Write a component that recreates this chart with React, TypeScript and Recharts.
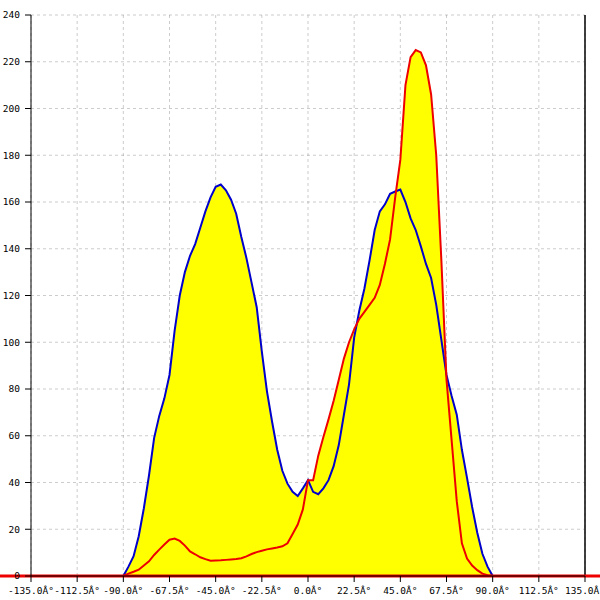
import { ComposedChart, Area, Line, XAxis, YAxis, CartesianGrid, ReferenceLine } from 'recharts'

const angles = [
  -90, -87.5, -85, -82.5, -80, -77.5, -75, -72.5, -70, -67.5, -65, -62.5, -60, -57.5, -55, -52.5, -50, -47.5,
  -45, -42.5, -40, -37.5, -35, -32.5, -30, -27.5, -25, -22.5, -20, -17.5, -15, -12.5, -10, -7.5, -5, -2.5,
  0, 2.5, 5, 7.5, 10, 12.5, 15, 17.5, 20, 22.5, 25, 27.5, 30, 32.5, 35, 37.5, 40, 42.5,
  45, 47.5, 50, 52.5, 55, 57.5, 60, 62.5, 65, 67.5, 70, 72.5, 75, 77.5, 80, 82.5, 85, 87.5, 90,
]

const blueValues = [
  0, 4, 8.5, 17, 29, 43, 59, 68.5, 76, 86, 105, 120, 130, 137, 142, 149, 156, 162,
  166.5, 167.5, 165, 161, 155, 145, 136, 125.5, 115, 96, 79, 66, 54, 45, 39.5, 36, 34.2, 37.5,
  41, 36, 35, 37.5, 41, 47, 56, 69, 82, 102, 113.5, 123, 135, 148, 156, 159, 163.5, 164.5,
  165.3, 160, 153, 148, 141, 133.5, 127.5, 116, 101, 86, 77, 69, 54, 42, 29.5, 18.5, 9.5, 4, 0,
]

const redValues = [
  0, 1, 1.8, 2.7, 4.5, 6.3, 9, 11.3, 13.5, 15.5, 16, 15, 13, 10.5, 9.3, 8, 7.2, 6.5,
  6.6, 6.7, 6.9, 7.1, 7.3, 7.6, 8.4, 9.4, 10.2, 10.8, 11.4, 11.8, 12.2, 12.7, 14, 18, 22, 28.5,
  41, 41, 51.5, 59.5, 67, 75, 84, 93, 100, 105.5, 110, 113, 116, 119, 124.5, 133.6, 144, 162,
  178, 210, 222, 225, 224, 218.5, 206, 180, 135, 84, 58, 32, 14, 7.5, 4.5, 2.5, 1, 0.3, 0,
]

const xTicks = [-135, -112.5, -90, -67.5, -45, -22.5, 0, 22.5, 45, 67.5, 90, 112.5, 135]
const yTicks = [0, 20, 40, 60, 80, 100, 120, 140, 160, 180, 200, 220, 240]

const data = angles.map((a, i) => ({ angle: a, blue: blueValues[i], red: redValues[i] }))

const tickStyle = { fontSize: 9.5, fontFamily: '"DejaVu Sans Mono", monospace', fill: '#000' }

export default function App() {
  return (
    <div style={{ position: 'absolute', left: 0, top: 0, width: 600, height: 600, background: '#fff' }}>
      <ComposedChart width={600} height={600} data={data} margin={{ top: 15, right: 15, bottom: 0, left: 0 }}>
        <XAxis
          dataKey="angle"
          type="number"
          domain={[-135, 135]}
          ticks={xTicks}
          tickFormatter={(v) => `${v.toFixed(1)}Â°`}
          height={24}
          tickSize={6}
          tickMargin={5}
          tick={tickStyle}
          stroke="#000"
          interval={0}
        />
        <YAxis
          type="number"
          domain={[0, 240]}
          ticks={yTicks}
          width={31}
          tickSize={6}
          tickMargin={5}
          tick={tickStyle}
          stroke="#000"
          interval={0}
        />
        <Area type="linear" dataKey="blue" stroke="none" fill="#ffff00" fillOpacity={1} isAnimationActive={false} />
        <Area type="linear" dataKey="red" stroke="none" fill="#ffff00" fillOpacity={1} isAnimationActive={false} />
        <CartesianGrid stroke="#808080" strokeOpacity={0.4} strokeDasharray="3 3" />
        <ReferenceLine x={135} stroke="#000" strokeWidth={1.5} />
        <Line type="linear" dataKey="blue" stroke="#0000cc" strokeWidth={2} dot={false} isAnimationActive={false} />
        <Line type="linear" dataKey="red" stroke="#ee0000" strokeWidth={2} dot={false} isAnimationActive={false} />
        <ReferenceLine
          segment={[{ x: -151, y: 0 }, { x: 170, y: 0 }]}
          ifOverflow="visible"
          stroke="#ee0000"
          strokeWidth={3}
        />
      </ComposedChart>
    </div>
  )
}
